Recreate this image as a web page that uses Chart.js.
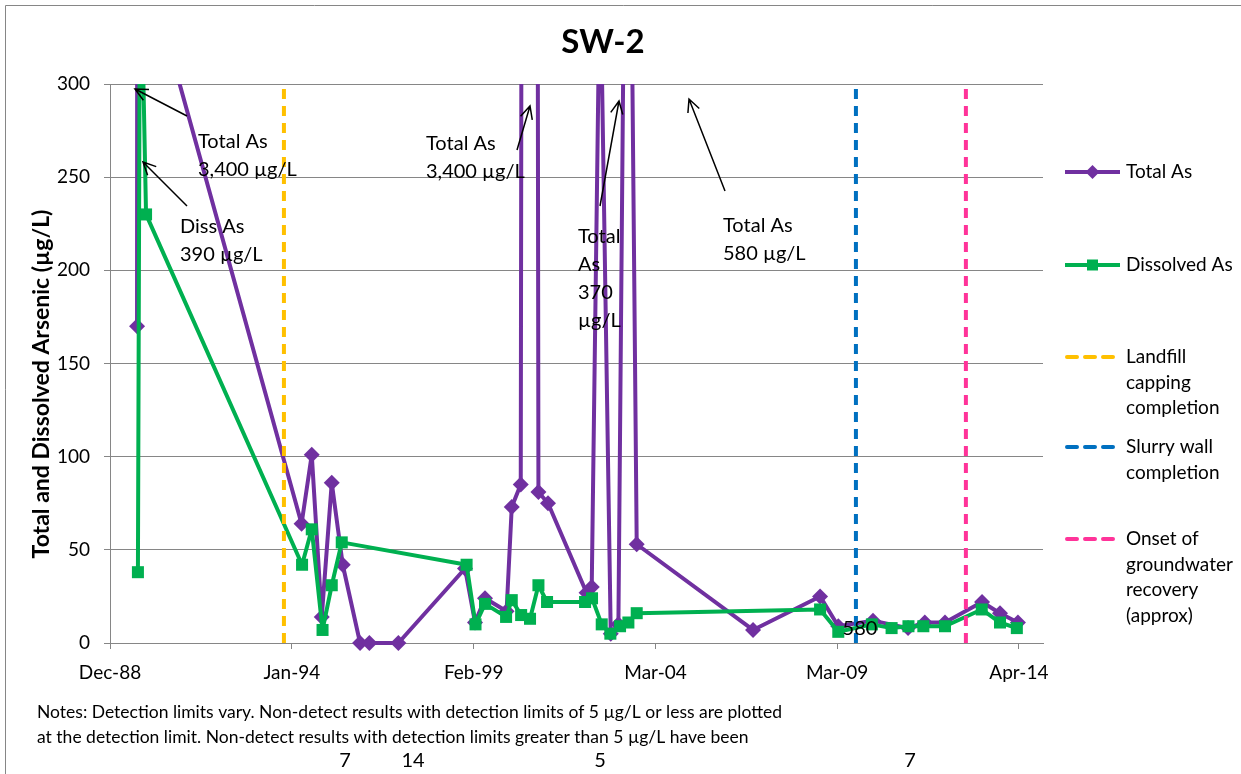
<!DOCTYPE html>
<html>
<head>
<meta charset="utf-8">
<title>SW-2</title>
<script src="https://cdn.jsdelivr.net/npm/chart.js@4.4.1/dist/chart.umd.min.js"></script>
<style>
  html, body { margin: 0; padding: 0; background: #fff; }
  canvas { display: block; }
</style>
</head>
<body>
<canvas id="chart" width="1241" height="774"></canvas>
<script>
// sample dates and results (µg/L)
const totalDates = [
  '1989-09-03', '1989-09-29', '1989-12-04',
  '1994-04-10', '1994-07-23', '1994-11-02', '1995-02-12', '1995-06-04', '1995-11-28', '1996-03-02', '1996-12-24',
  '1998-11-04', '1999-02-14', '1999-05-27', '2000-01-02', '2000-02-24', '2000-05-26', '2000-08-25', '2000-11-23', '2001-03-01',
  '2002-03-29', '2002-05-21', '2002-08-14', '2002-12-01', '2003-02-17', '2003-05-22', '2003-08-23',
  '2006-11-23', '2008-10-08', '2009-04-12', '2010-04-01', '2011-03-25', '2011-09-12', '2012-04-05', '2013-04-19', '2013-10-19', '2014-04-20'
];
const totalAs = [170, 3400, 365, 64, 101, 14, 86, 42, 0, 0, 0, 40, 11, 24, 17, 73, 85, 3400, 81, 75, 27, 30, 370, 5, 10, 580, 53, 7, 25, 9, 12, 8, 11, 11, 22, 16, 11];

const dissolvedDates = [
  '1989-09-12', '1989-10-04', '1989-12-04',
  '1994-04-15', '1994-07-23', '1994-11-10', '1995-02-12', '1995-05-25',
  '1998-11-20', '1999-02-19', '1999-05-27', '1999-12-28', '2000-02-24', '2000-05-30', '2000-08-29', '2000-11-23', '2001-02-19',
  '2002-03-14', '2002-05-24', '2002-08-31', '2002-11-27', '2003-03-06', '2003-05-30', '2003-08-23',
  '2008-10-08', '2009-04-12', '2010-03-21', '2010-10-08', '2011-03-29', '2011-08-28', '2012-04-05', '2013-04-16', '2013-10-19', '2014-04-09'
];
const dissolvedAs = [38, 390, 230, 42, 61, 7, 31, 54, 42, 10, 21, 14, 23, 15, 13, 31, 22, 22, 24, 10, 5, 9, 11, 16, 18, 6, 10, 8, 9, 9, 9, 18, 11, 8];

const eventNames = [['Landfill', 'capping', 'completion'], ['Slurry wall', 'completion'], ['Onset of', 'groundwater', 'recovery', '(approx)']];
const eventDates = ['1993-10-12', '2009-10-09', '2012-11-05'];
const eventColors = ['#FFC000', '#0070C0', '#FF3399'];

const xTickDates = ['1988-12-01', '1994-01-01', '1999-02-01', '2004-03-02', '2009-03-31', '2014-04-30'];
const xTickLabels = ['Dec-88', 'Jan-94', 'Feb-99', 'Mar-04', 'Mar-09', 'Apr-14'];
const xStart = '1988-12-01', xEnd = '2015-01-01';
const yMax = 300, yStep = 50;

const PURPLE = '#7030A0', GREEN = '#00B050', GRID = '#868686';
const FONT = 'Lato, "Open Sans", sans-serif';

// callout text boxes and arrows (pixels)
const callouts = [
  { lines: ['Total As', '3,400 µg/L'], x: 198, y: 142, arrow: [187, 116, 135, 89] },
  { lines: ['Diss As', '390 µg/L'], x: 180, y: 227, arrow: [187, 206, 143, 162] },
  { lines: ['Total As', '3,400 µg/L'], x: 426, y: 144, arrow: [517, 150, 530, 106] },
  { lines: ['Total', 'As', '370', 'µg/L'], x: 578, y: 237, arrow: [600, 206, 619, 101] },
  { lines: ['Total As', '580 µg/L'], x: 723, y: 226, arrow: [725, 191, 689, 99] }
];
const strayLabels = [['580', 860, 629], ['7', 345, 761], ['14', 413, 761], ['5', 600, 761], ['7', 910, 761]];
const notes = [
  'Notes: Detection limits vary. Non-detect results with detection limits of 5 µg/L or less are plotted',
  'at the detection limit. Non-detect results with detection limits greater than 5 µg/L have been'
];

function decYear(s) {
  const [y, m, d] = s.split('-').map(Number);
  const t0 = Date.UTC(y, 0, 1), t1 = Date.UTC(y + 1, 0, 1);
  return y + (Date.UTC(y, m - 1, d) - t0) / (t1 - t0);
}

function arrow(ctx, x1, y1, x2, y2) {
  ctx.beginPath();
  ctx.moveTo(x1, y1);
  ctx.lineTo(x2, y2);
  const a = Math.atan2(y2 - y1, x2 - x1), h = 14;
  ctx.moveTo(x2 - h * Math.cos(a - 0.45), y2 - h * Math.sin(a - 0.45));
  ctx.lineTo(x2, y2);
  ctx.lineTo(x2 - h * Math.cos(a + 0.45), y2 - h * Math.sin(a + 0.45));
  ctx.stroke();
}

const decor = {
  id: 'decor',
  afterDraw(chart) {
    const ctx = chart.ctx;
    ctx.save();
    // frame
    ctx.strokeStyle = GRID;
    ctx.lineWidth = 1;
    ctx.beginPath();
    ctx.moveTo(5.5, 774); ctx.lineTo(5.5, 5.5); ctx.lineTo(1241, 5.5);
    ctx.stroke();

    ctx.fillStyle = '#000';
    ctx.textBaseline = 'middle';
    // title
    ctx.textAlign = 'center';
    ctx.font = 'bold 33px ' + FONT;
    ctx.fillText('SW-2', 603, 42);
    // y axis title
    ctx.save();
    ctx.translate(42, 384);
    ctx.rotate(-Math.PI / 2);
    ctx.font = 'bold 23px ' + FONT;
    ctx.fillText('Total and Dissolved Arsenic (µg/L)', 0, 0);
    ctx.restore();

    // callouts
    ctx.textAlign = 'left';
    ctx.font = '20px ' + FONT;
    ctx.strokeStyle = '#000';
    ctx.lineWidth = 1.5;
    callouts.forEach(c => {
      c.lines.forEach((t, i) => ctx.fillText(t, c.x, c.y + i * 28));
      arrow(ctx, ...c.arrow);
    });
    ctx.textAlign = 'center';
    strayLabels.forEach(([t, x, y]) => ctx.fillText(t, x, y));

    // notes
    ctx.textAlign = 'left';
    ctx.font = '17.5px ' + FONT;
    notes.forEach((t, i) => ctx.fillText(t, 37, 712 + i * 25));

    // legend
    const lx0 = 1065, lx1 = 1120, tx = 1126;
    const rows = [
      { y: 172, lines: ['Total As'], color: PURPLE, marker: 'diamond' },
      { y: 265, lines: ['Dissolved As'], color: GREEN, marker: 'square' }
    ];
    const eventY = [357, 447, 539];
    eventNames.forEach((n, i) => rows.push({ y: eventY[i], lines: n, color: eventColors[i], dash: true }));
    ctx.font = '19px ' + FONT;
    rows.forEach(r => {
      ctx.strokeStyle = r.color;
      ctx.fillStyle = r.color;
      ctx.lineWidth = 4;
      ctx.setLineDash(r.dash ? [10, 8] : []);
      ctx.lineCap = r.dash ? 'round' : 'butt';
      ctx.beginPath();
      ctx.moveTo(lx0 + (r.dash ? 2 : 0), r.y);
      ctx.lineTo(r.dash ? 1116 : lx1, r.y);
      ctx.stroke();
      ctx.setLineDash([]);
      const cx = (lx0 + lx1) / 2;
      if (r.marker === 'diamond') {
        ctx.beginPath();
        ctx.moveTo(cx, r.y - 7); ctx.lineTo(cx + 7, r.y); ctx.lineTo(cx, r.y + 7); ctx.lineTo(cx - 7, r.y);
        ctx.closePath(); ctx.fill();
      } else if (r.marker === 'square') {
        ctx.fillRect(cx - 5.5, r.y - 5.5, 11, 11);
      }
      ctx.fillStyle = '#000';
      r.lines.forEach((t, i) => ctx.fillText(t, tx, r.y + i * 25.5));
    });
    ctx.restore();
  }
};

const pointsOf = (dates, vals) => dates.map((d, i) => ({ x: decYear(d), y: vals[i] }));
const clipBox = { left: 10, top: 0, right: 10, bottom: 12 };

const datasets = [
  {
    label: 'Total As', data: pointsOf(totalDates, totalAs), order: 2,
    borderColor: PURPLE, backgroundColor: PURPLE, borderWidth: 4, borderJoinStyle: 'round',
    pointStyle: 'rectRot', pointRadius: 8, pointBorderWidth: 0, pointBackgroundColor: PURPLE,
    clip: clipBox
  },
  {
    label: 'Dissolved As', data: pointsOf(dissolvedDates, dissolvedAs), order: 1,
    borderColor: GREEN, backgroundColor: GREEN, borderWidth: 4, borderJoinStyle: 'round',
    pointStyle: 'rect', pointRadius: 8.5, pointBorderWidth: 0, pointBackgroundColor: GREEN,
    clip: clipBox
  }
];
eventNames.forEach((n, i) => datasets.push({
  label: n.join(' '),
  data: [{ x: decYear(eventDates[i]), y: 0 }, { x: decYear(eventDates[i]), y: yMax }],
  order: 0, borderColor: eventColors[i], borderWidth: 4, borderDash: [10, 7],
  pointRadius: 0, clip: clipBox
}));

new Chart(document.getElementById('chart'), {
  type: 'line',
  data: { datasets },
  options: {
    responsive: false,
    animation: false,
    events: [],
    layout: { padding: { top: 84, right: 198, left: 0, bottom: 0 } },
    plugins: { legend: { display: false }, tooltip: { enabled: false }, title: { display: false } },
    elements: { line: { tension: 0 } },
    scales: {
      x: {
        type: 'linear',
        min: decYear(xStart),
        max: decYear(xEnd),
        afterBuildTicks: s => { s.ticks = xTickDates.map(d => ({ value: decYear(d) })); },
        afterFit: s => { s.height = 131; },
        grid: { display: true, drawOnChartArea: false, drawTicks: true, tickLength: 6, color: GRID },
        border: { display: true, color: GRID, width: 1 },
        ticks: {
          autoSkip: false, maxRotation: 0, padding: 12, color: '#000',
          font: { family: FONT, size: 19 },
          callback: (v, i) => xTickLabels[i]
        }
      },
      y: {
        min: 0, max: yMax,
        afterFit: s => { s.width = 110; },
        grid: { color: GRID, lineWidth: 1, tickLength: 6 },
        border: { display: true, color: GRID, width: 1 },
        ticks: { stepSize: yStep, padding: 14, color: '#000', font: { family: FONT, size: 19 } }
      }
    }
  },
  plugins: [decor]
});
</script>
</body>
</html>
